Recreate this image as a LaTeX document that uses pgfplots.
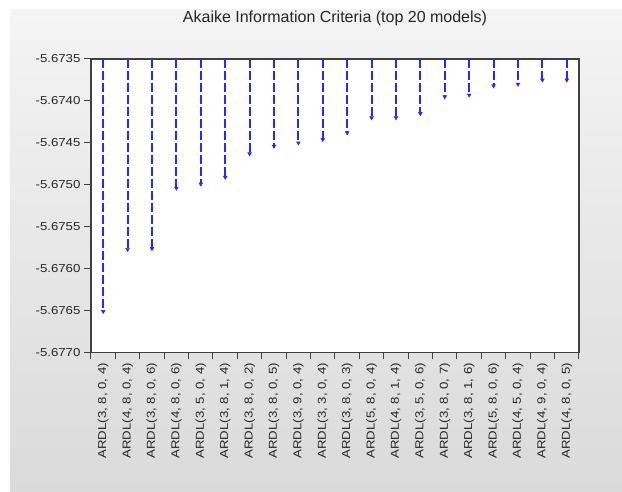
\documentclass[border=0pt]{standalone}
\usepackage{fontspec}
\setmainfont{Liberation Sans}
\newfontfamily\tickfont[FakeStretch=1.15]{Liberation Sans}
\usepackage{pgfplots}
\pgfplotsset{compat=1.18}
\definecolor{stemblue}{RGB}{40,40,255}
\definecolor{axl}{RGB}{64,64,64}
\begin{document}
\begin{tikzpicture}
\useasboundingbox (-91pt,-139.5pt) rectangle (531pt,352.5pt);
\fill[white] (-91pt,-139.5pt) rectangle (531pt,352.5pt);
\shade[top color={rgb,255:red,244;green,244;blue,244}, bottom color={rgb,255:red,218;green,218;blue,218}] (-81pt,-139.5pt) rectangle (531pt,342.5pt);
\begin{axis}[
  at={(0,0)}, anchor=south west,
  scale only axis, width=488pt, height=293.5pt,
  xmin=-0.5, xmax=19.5, ymin=-5.6770, ymax=-5.6735,
  axis background/.style={fill=white},
  axis line style={axl, line width=1.2pt},
  tick align=outside, major tick length=7pt,
  xtick pos=bottom, ytick pos=left,
  ytick={-5.677,-5.6765,-5.676,-5.6755,-5.675,-5.6745,-5.674,-5.6735},
  yticklabels={-5.6770,-5.6765,-5.6760,-5.6755,-5.6750,-5.6745,-5.6740,-5.6735},
  scaled y ticks=false,
  ytick style={axl, line width=1pt},
  xtick={0,...,19},
  xticklabels={{ARDL(3, 8, 0, 4)},{ARDL(4, 8, 0, 4)},{ARDL(3, 8, 0, 6)},{ARDL(4, 8, 0, 6)},{ARDL(3, 5, 0, 4)},{ARDL(3, 8, 1, 4)},{ARDL(3, 8, 0, 2)},{ARDL(3, 8, 0, 5)},{ARDL(3, 9, 0, 4)},{ARDL(3, 3, 0, 4)},{ARDL(3, 8, 0, 3)},{ARDL(5, 8, 0, 4)},{ARDL(4, 8, 1, 4)},{ARDL(3, 5, 0, 6)},{ARDL(3, 8, 0, 7)},{ARDL(3, 8, 1, 6)},{ARDL(5, 8, 0, 6)},{ARDL(4, 5, 0, 4)},{ARDL(4, 9, 0, 4)},{ARDL(4, 8, 0, 5)}},
  xtick style={draw=none},
  extra x ticks={-0.5,0.5,1.5,2.5,3.5,4.5,5.5,6.5,7.5,8.5,9.5,10.5,11.5,12.5,13.5,14.5,15.5,16.5,17.5,18.5,19.5},
  extra x tick labels={},
  extra x tick style={xtick style={draw=axl, line width=1pt}},
  xticklabel style={rotate=90, anchor=east, font=\tickfont\fontsize{11.5}{13}\selectfont, text=black!85},
  yticklabel style={font=\tickfont\fontsize{11.5}{13}\selectfont, text=black!85},
  title={Akaike Information Criteria (top 20 models)},
  title style={at={(0.5,1)}, anchor=base, yshift=30.7pt, font=\fontsize{16}{18}\selectfont, text=black!85},
  unbounded coords=jump,
  clip=true,
]
\addplot[draw=stemblue, line width=2pt, dash pattern=on 9pt off 3pt, no marks] coordinates {
(0,-5.6735) (0,-5.67651) (0,nan)
(1,-5.6735) (1,-5.67577) (1,nan)
(2,-5.6735) (2,-5.67576) (2,nan)
(3,-5.6735) (3,-5.67504) (3,nan)
(4,-5.6735) (4,-5.67499) (4,nan)
(5,-5.6735) (5,-5.67491) (5,nan)
(6,-5.6735) (6,-5.67463) (6,nan)
(7,-5.6735) (7,-5.67454) (7,nan)
(8,-5.6735) (8,-5.67450) (8,nan)
(9,-5.6735) (9,-5.67446) (9,nan)
(10,-5.6735) (10,-5.67438) (10,nan)
(11,-5.6735) (11,-5.67420) (11,nan)
(12,-5.6735) (12,-5.67420) (12,nan)
(13,-5.6735) (13,-5.67415) (13,nan)
(14,-5.6735) (14,-5.67395) (14,nan)
(15,-5.6735) (15,-5.67393) (15,nan)
(16,-5.6735) (16,-5.67382) (16,nan)
(17,-5.6735) (17,-5.67380) (17,nan)
(18,-5.6735) (18,-5.67375) (18,nan)
(19,-5.6735) (19,-5.67375)
};
\addplot[only marks, mark=triangle*, mark size=2.2pt, mark options={rotate=180, solid, fill=stemblue, draw=stemblue}] coordinates {
(0,-5.67651) (1,-5.67577) (2,-5.67576) (3,-5.67504) (4,-5.67499)
(5,-5.67491) (6,-5.67463) (7,-5.67454) (8,-5.67450) (9,-5.67446)
(10,-5.67438) (11,-5.67420) (12,-5.67420) (13,-5.67415) (14,-5.67395)
(15,-5.67393) (16,-5.67382) (17,-5.67380) (18,-5.67375) (19,-5.67375)
};
\end{axis}
\end{tikzpicture}
\end{document}
